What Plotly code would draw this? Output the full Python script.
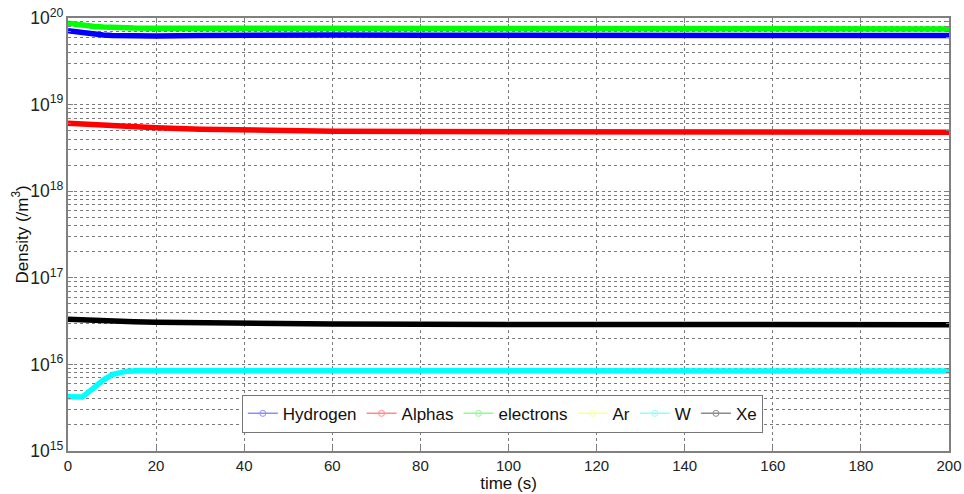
import plotly.graph_objects as go

# ---- data ----
time = [0, 2, 4, 6, 8, 10, 12, 15, 20, 30, 40, 50, 60, 80, 100, 120, 140, 160, 180, 200]
hydrogen = [7.13e19, 6.89e19, 6.66e19, 6.48e19, 6.36e19, 6.28e19, 6.23e19, 6.20e19, 6.20e19, 6.30e19,
            6.38e19, 6.38e19, 6.35e19, 6.32e19, 6.31e19, 6.29e19, 6.28e19, 6.28e19, 6.26e19, 6.26e19]
alphas = [6.08e18, 6.00e18, 5.92e18, 5.84e18, 5.77e18, 5.71e18, 5.64e18, 5.54e18, 5.40e18, 5.19e18,
          5.05e18, 4.98e18, 4.93e18, 4.88e18, 4.85e18, 4.84e18, 4.83e18, 4.83e18, 4.81e18, 4.81e18]
electrons = [8.70e19, 8.40e19, 8.20e19, 8.00e19, 7.87e19, 7.77e19, 7.70e19, 7.66e19, 7.62e19, 7.60e19,
             7.58e19, 7.56e19, 7.55e19, 7.53e19, 7.51e19, 7.50e19, 7.48e19, 7.47e19, 7.46e19, 7.45e19]
xenon = [3.32e16, 3.28e16, 3.24e16, 3.21e16, 3.18e16, 3.16e16, 3.14e16, 3.11e16, 3.07e16, 3.01e16,
         2.97e16, 2.94e16, 2.92e16, 2.90e16, 2.88e16, 2.88e16, 2.87e16, 2.87e16, 2.87e16, 2.87e16]
argon_time = []
argon = []
w_time = [0, 2, 3.2, 5.7, 8, 10.2, 13.4, 16, 20, 50, 100, 150, 200]
tungsten = [4.22e15, 4.22e15, 4.20e15, 5.30e15, 6.60e15, 7.70e15, 8.35e15, 8.45e15, 8.45e15,
            8.45e15, 8.43e15, 8.42e15, 8.40e15]

series = [
    ("Hydrogen", time, hydrogen, "#0000ff", "#8c8cff"),
    ("Alphas", time, alphas, "#ff0000", "#ff8c8c"),
    ("electrons", time, electrons, "#00ff00", "#8cff8c"),
    ("Ar", argon_time, argon, "#ffff00", "#ffff8c"),
    ("W", w_time, tungsten, "#00ffff", "#8cffff"),
    ("Xe", time, xenon, "#000000", "#8c8c8c"),
]

fig = go.Figure()
for name, t, v, col, light in series:
    fig.add_trace(go.Scatter(x=t, y=v, mode="lines", name=name, showlegend=False,
                             line=dict(color=col, width=5.5)))
for name, t, v, col, light in series:
    fig.add_trace(go.Scatter(x=[None], y=[None], mode="lines+markers", name=name,
                             line=dict(color=light, width=1.5),
                             marker=dict(symbol="circle-open", size=6, color=light)))

grid = "#7a7a7a"
fig.update_layout(
    width=964, height=494,
    margin=dict(l=68, r=15, t=18, b=43),
    paper_bgcolor="white", plot_bgcolor="white",
    font=dict(family="Liberation Sans, Arial, sans-serif", color="#222", size=15),
    legend=dict(orientation="h", x=0.493, xanchor="center", y=0.042, yanchor="bottom",
                bgcolor="white", bordercolor="#777", borderwidth=1,
                font=dict(size=17, color="#111"), itemwidth=30,
                tracegroupgap=0),
    xaxis=dict(range=[0, 200], tick0=0, dtick=20, showline=True, linecolor="#808080", linewidth=1.5,
               mirror="ticks", ticks="inside", ticklen=5, tickcolor="#808080",
               showgrid=True, gridcolor=grid, griddash="dot", gridwidth=1, zeroline=False,
               automargin=False, ticklabeloverflow="allow",
               title=dict(text="time (s)", font=dict(size=17, color="#111"), standoff=2),
               tickfont=dict(size=15)),
    yaxis=dict(type="log", range=[15, 20], dtick=1, exponentformat="power",
               showline=True, linecolor="#808080", linewidth=1.5, mirror="ticks",
               ticks="inside", ticklen=5, tickcolor="#808080",
               showgrid=True, gridcolor=grid, griddash="dot", gridwidth=1, zeroline=False,
               automargin=False, ticklabeloverflow="allow",
               minor=dict(showgrid=True, gridcolor=grid, griddash="dot", gridwidth=1,
                          ticks="inside", ticklen=3, tickcolor="#808080"),
               tickfont=dict(size=14)),
    annotations=[dict(text="Density (/m<sup>3</sup>)", xref="paper", yref="paper",
                      x=-0.0545, y=0.5, xanchor="center", yanchor="middle", textangle=-90,
                      showarrow=False, font=dict(size=17, color="#111"))],
)

fig.write_html("out.html", config={"displayModeBar": False},
               post_script="document.body.style.margin='0';")
